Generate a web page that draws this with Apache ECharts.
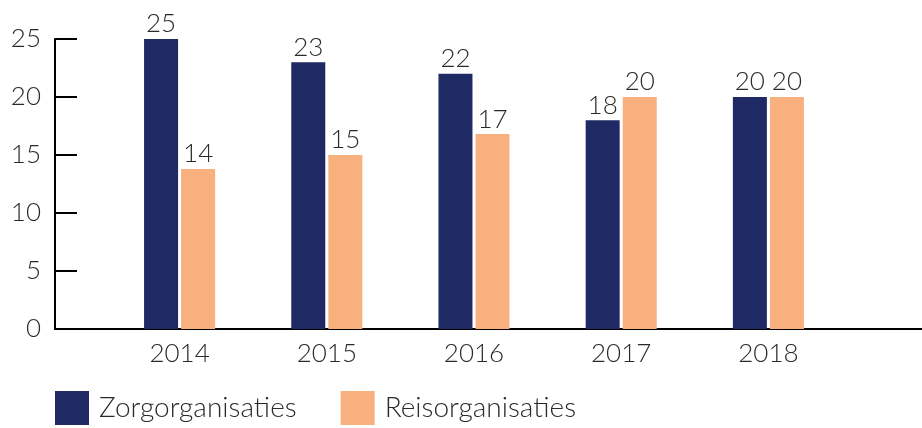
<!DOCTYPE html>
<html>
<head>
<meta charset="utf-8">
<script src="https://cdn.jsdelivr.net/npm/echarts@6/dist/echarts.min.js"></script>
<style>
html, body { margin: 0; padding: 0; background: #fff; }
#chart { width: 922px; height: 428px; }
</style>
</head>
<body>
<div id="chart"></div>
<script>
var years = ['2014', '2015', '2016', '2017', '2018'];
var zorg = [25, 23, 22, 18, 20];
var reis = [13.8, 15, 16.8, 20, 20];
var yTicks = [0, 5, 10, 15, 20, 25];

var navy = '#1f2963';
var peach = '#f9b07f';
var textColor = '#2a2a2a';
var fontFamily = 'Lato, "Open Sans", sans-serif';

var myChart = echarts.init(document.getElementById('chart'));

var labelStyle = {
	show: true,
	position: 'top',
	distance: 2,
	color: textColor,
	fontSize: 26,
	fontWeight: 300,
	fontFamily: fontFamily,
	formatter: function (p) {
		return Math.round(p.value);
	}
};

var option = {
	animation: false,
	textStyle: { fontFamily: fontFamily },
	color: [navy, peach],
	legend: {
		left: 55,
		top: 391,
		padding: 0,
		icon: 'rect',
		itemWidth: 34,
		itemHeight: 34,
		itemGap: 44,
		textStyle: {
			color: textColor,
			fontSize: 28,
			fontWeight: 300,
			padding: [12, 0, 0, 5]
		},
		data: ['Zorgorganisaties', 'Reisorganisaties']
	},
	grid: [
		{ left: 106, right: 80, top: 39, bottom: 99 },
		{ left: 55, right: 0, top: 39, bottom: 99 }
	],
	xAxis: [
		{
			type: 'category',
			gridIndex: 0,
			data: years,
			axisLine: { show: false },
			axisTick: { show: false },
			axisLabel: {
				color: textColor,
				fontSize: 26,
				fontWeight: 300,
				margin: 12
			}
		},
		{
			type: 'value',
			gridIndex: 1,
			min: 0,
			max: 1,
			axisLine: { show: true, lineStyle: { color: '#000', width: 2 } },
			axisTick: { show: false },
			axisLabel: { show: false },
			splitLine: { show: false }
		}
	],
	yAxis: [
		{
			type: 'value',
			gridIndex: 0,
			min: yTicks[0],
			max: yTicks[yTicks.length - 1],
			interval: 5,
			offset: 51,
			axisLine: { show: true, lineStyle: { color: '#000', width: 2 } },
			axisTick: { show: true, inside: true, length: 22, lineStyle: { color: '#000', width: 2 } },
			splitLine: { show: false },
			axisLabel: {
				color: textColor,
				fontSize: 26,
				fontWeight: 300,
				margin: 14
			}
		},
		{
			type: 'value',
			gridIndex: 1,
			show: false
		}
	],
	series: [
		{
			name: 'Zorgorganisaties',
			type: 'bar',
			xAxisIndex: 0,
			yAxisIndex: 0,
			barWidth: 34,
			barGap: '9%',
			label: labelStyle,
			data: zorg
		},
		{
			name: 'Reisorganisaties',
			type: 'bar',
			xAxisIndex: 0,
			yAxisIndex: 0,
			barWidth: 34,
			barGap: '9%',
			label: labelStyle,
			data: reis
		}
	]
};

myChart.setOption(option);
window.addEventListener('resize', myChart.resize);
</script>
</body>
</html>
